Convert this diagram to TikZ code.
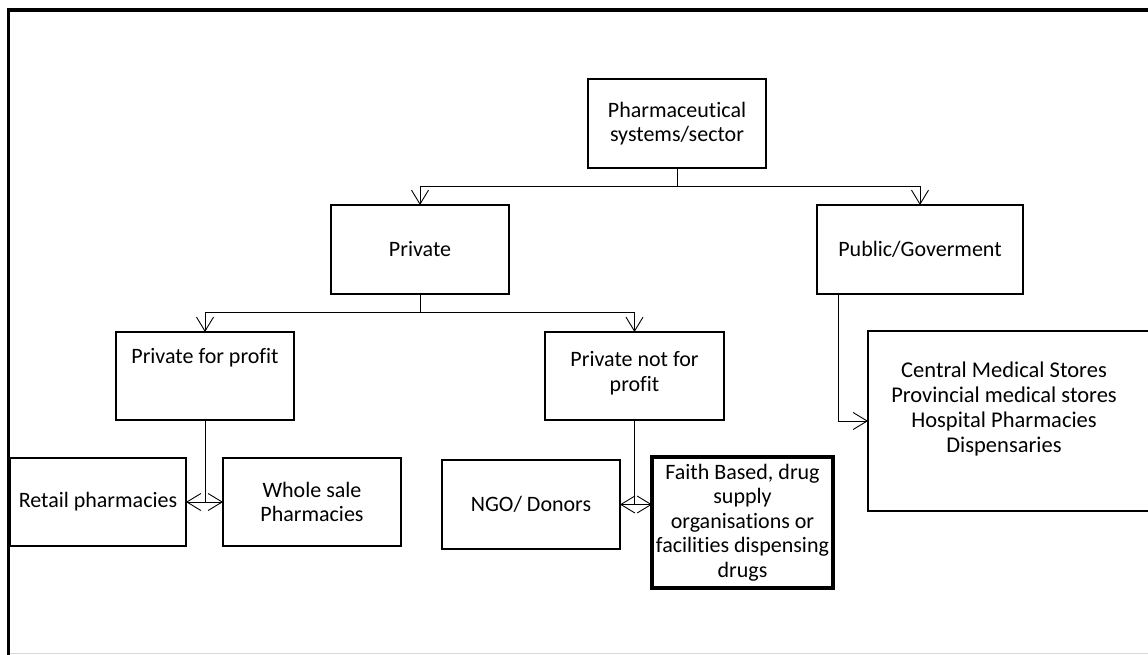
\documentclass[tikz,border=0pt]{standalone}
\usepackage{fontspec}
\setmainfont[Ligatures=CommonOff]{Carlito}
\usetikzlibrary{arrows.meta}
\begin{document}
\begin{tikzpicture}[x=1pt,y=-1pt,
  box/.style={draw=black, line width=1.2pt, inner sep=0pt, outer sep=0pt, align=center},
  txt/.style={inner sep=0pt, align=center},
  arr/.style={-{Straight Barb[length=14pt,width=17pt,line width=0.9pt]}, line width=0.9pt},
  darr/.style={{Straight Barb[length=14pt,width=17pt,line width=0.9pt]}-{Straight Barb[length=14pt,width=17pt,line width=0.9pt]}, line width=0.9pt},
  plain/.style={line width=0.9pt},
  font=\fontsize{22}{24.5}\selectfont]
\useasboundingbox (0,0) rectangle (1148,655);
\clip (0,0) rectangle (1148,655);
\fill[white] (0,0) rectangle (1148,655);
% frame
\draw[line width=3.6pt] (8.5,670) -- (8.5,10) -- (1170,10);
\draw[black!15, line width=1pt] (10,653.5) -- (1148,653.5);
% boxes
\node[box, minimum width=178, minimum height=89] (top) at (677,123.5) {Pharmaceutical\\systems/sector};
\node[box, minimum width=178, minimum height=89] (priv) at (420,249.5) {Private};
\node[box, minimum width=206, minimum height=89] (pub) at (920,249.5) {Public/Goverment};
\node[box, minimum width=178, minimum height=88] (pfp) at (205,376) {};
\node[txt] (pfptxt) at (205,358) {Private for profit};
\node[box, minimum width=179, minimum height=88] (pnfp) at (634.5,376) {};
\node[txt] (pnfptxt) at (634.5,373) {Private not for\\profit};
\node[box, minimum width=176, minimum height=88] (retail) at (98,502) {Retail pharmacies};
\node[box, minimum width=178, minimum height=88] (whole) at (312,502) {Whole sale\\Pharmacies};
\node[box, minimum width=178, minimum height=89] (ngo) at (531,504.5) {NGO/ Donors};
\node[box, line width=4pt, minimum width=181, minimum height=131] (faith) at (742.5,522.5) {Faith Based, drug\\supply\\organisations or\\facilities dispensing\\drugs};
\node[box, minimum width=300, minimum height=180] (list) at (1018,421) {};
\node[txt, font=\fontsize{22.5}{25}\selectfont] (listtxt) at (1004,409) {Central Medical Stores\\Provincial medical stores\\Hospital Pharmacies\\Dispensaries};
% connectors
\draw[arr] (top.south) -- ++(0,18) -| (priv.north);
\draw[arr] (top.south) -- ++(0,18) -| (pub.north);
\draw[arr] (priv.south) -- ++(0,18) -| (pfp.north);
\draw[arr] (priv.south) -- ++(0,18) -| (pnfp.north);
\draw[plain] (pfp.south) -- (pfp.south |- retail.east);
\draw[darr] (retail.east) -- (whole.west);
\draw[plain] (pnfp.south) -- (pnfp.south |- ngo.east);
\draw[darr] (ngo.east) -- (faith.west |- ngo.east);
\draw[arr] ([xshift=21pt]pub.south west) |- (list.west);
\end{tikzpicture}
\end{document}
